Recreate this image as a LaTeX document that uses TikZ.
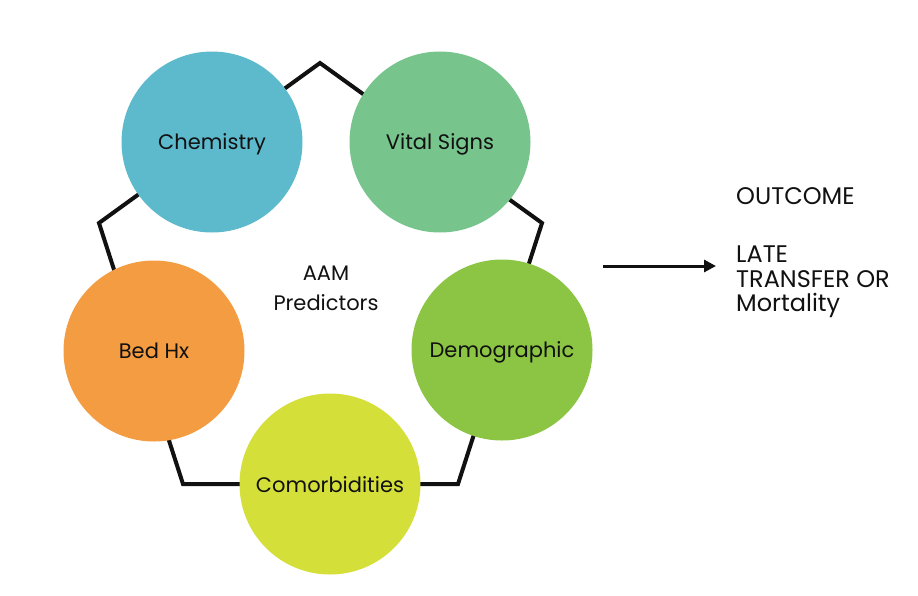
\documentclass[tikz,border=0pt]{standalone}
\usepackage{fontspec}
\setmainfont{Poppins}
\usepackage{tikz}
\usetikzlibrary{arrows.meta}

\definecolor{chemblue}{HTML}{5DB9CC}
\definecolor{vitalgreen}{HTML}{77C48D}
\definecolor{demogreen}{HTML}{8BC543}
\definecolor{comorbyellow}{HTML}{D4DF3A}
\definecolor{bedorange}{HTML}{F39C42}
\definecolor{inkblack}{HTML}{111111}

\begin{document}
\begin{tikzpicture}[
x=1pt, y=-1pt,
predictor/.style={
  circle,
  minimum size=181pt,
  inner sep=0pt,
  text depth=0pt,
  text=inkblack,
  font=\fontsize{21}{24}\selectfont
  },
frame/.style={draw=inkblack, line width=4pt, line join=miter},
flow/.style={-{Triangle[length=12pt,width=12pt]}, line width=3pt, draw=inkblack},
plain/.style={text=inkblack, font=\fontsize{21}{30}\selectfont, inner sep=0pt},
outtext/.style={text=inkblack, font=\fontsize{24}{24.5}\selectfont, inner sep=0pt}
]
\useasboundingbox (0,0) rectangle (918,595);
% pentagon behind the predictors
\coordinate (p1) at (320,63);
\coordinate (p2) at (542,223);
\coordinate (p3) at (458,484);
\coordinate (p4) at (183,484);
\coordinate (p5) at (99,223);
\draw[frame] (p1) -- (p2) -- (p3) -- (p4) -- (p5) -- cycle;
\foreach \Name/\X/\Y/\Col/\Text in {
  chem/212/142/chemblue/Chemistry,
  vital/440/142/vitalgreen/Vital Signs,
  demo/502/350/demogreen/Demographic,
  comorb/330/484/comorbyellow/Comorbidities,
  bedhx/154/351/bedorange/Bed Hx}
  \node[predictor,fill=\Col] (\Name) at (\X,\Y) {\Text};
\node[plain,align=center,anchor=north] (aam) at (326,266) {AAM\\Predictors};
% outcome
\node[outtext,anchor=base west] (outcome) at (736,204) {OUTCOME};
\node[outtext,anchor=north west,align=left] (result) at (736,246) {LATE\\TRANSFER OR\\Mortality};
\coordinate (src) at (603,266);
\draw[flow] (src) -- (src -| result.west) [shorten >=20pt];
\end{tikzpicture}
\end{document}
